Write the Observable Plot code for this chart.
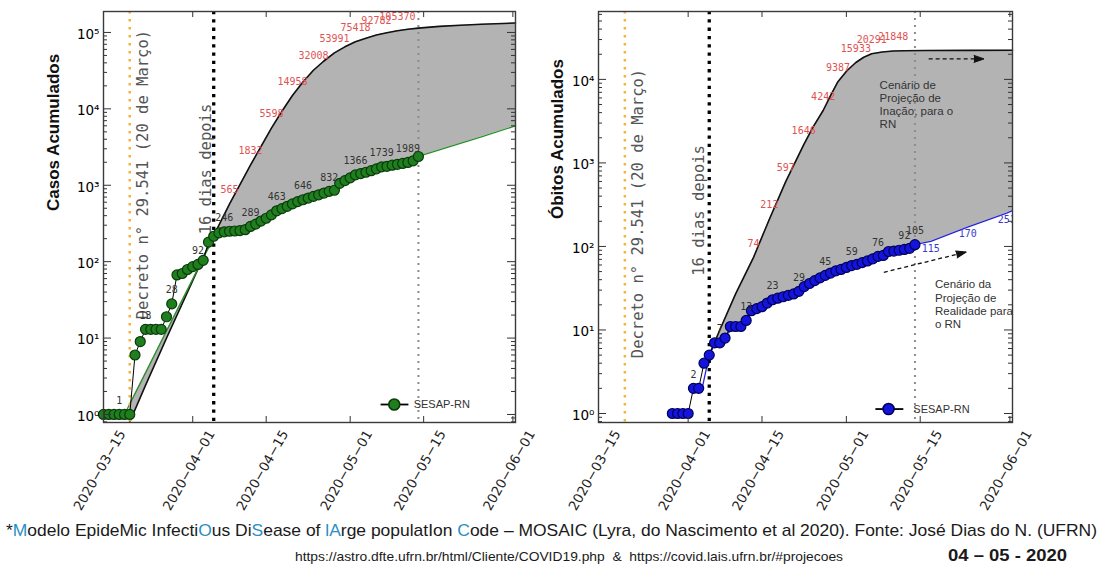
<!DOCTYPE html>
<html><head><meta charset="utf-8">
<script src="https://cdn.jsdelivr.net/npm/d3@7"></script>
<script src="https://cdn.jsdelivr.net/npm/@observablehq/plot@0.6"></script>
<style>
body{margin:0;background:#fff;width:1101px;height:568px;position:relative;overflow:hidden;font-family:"Liberation Sans",Arial,sans-serif;}
#left{position:absolute;left:0;top:0;width:540px;}
#right{position:absolute;left:540px;top:0;width:561px;}
.cap{position:absolute;white-space:nowrap;transform-origin:0 0;color:#1a1a1a;line-height:1;}
.c{color:#2a8fc4;}
</style></head><body>
<div id="left"></div><div id="right"></div>
<div class="cap" id="cap1" style="left:6px;top:522px;font-size:17px;">*<span class="c">M</span>odelo EpideMic Infecti<span class="c">O</span>us Di<span class="c">S</span>ease of <span class="c">lA</span>rge populatIon <span class="c">C</span>ode – MOSAIC (Lyra, do Nascimento et al 2020). Fonte: José Dias do N. (UFRN)</div>
<div class="cap" id="cap2" style="left:295px;top:550px;font-size:13px;">https://astro.dfte.ufrn.br/html/Cliente/COVID19.php &nbsp;&amp;&nbsp; https://covid.lais.ufrn.br/#projecoes</div>
<div class="cap" id="cap3" style="left:948px;top:548px;font-size:16px;font-weight:bold;">04 – 05 - 2020</div>
<script>
// ---------------- data (x = days counted from 2020-03-15) ----------------
const inicio = "2020-03-15";
const xTicks = ["2020-03-15", "2020-04-01", "2020-04-15", "2020-05-01", "2020-05-15", "2020-06-01"];
const xFim = 78.5;
const diaDecreto = "2020-03-20";
const diaDepois = "2020-04-05";
const diaHoje = "2020-05-14";

// SESAP-RN observed cumulative cases (daily, first day = 0)
const casosPrimeiroDia = 0;
const casosSESAP = [1,1,1,1,1,1,6,9,13,13,13,13,19,28,67,70,79,86,92,104,180,215,238,246,250,252,255,262,289,310,340,370,410,463,495,530,570,610,646,680,715,750,790,832,860,1060,1150,1250,1366,1420,1480,1550,1640,1739,1770,1830,1880,1930,1989,2090,2380];
const casosRotuloDias = [3,8,13,18,23,28,33,38,43,48,53,58];

// Cases: "inação" projection (upper, black)
const casosInacaoDia = [5,8,12,16,20,24,28,32,34,36,38,40,42,44,46,48,50,52,54,56,58,60,64,68,72,78.5];
const casosInacaoVal = [0.8,2.4,10,40,160,565,1832,5598,9300,14958,22500,32008,42300,53991,64800,75418,84200,92782,99300,105370,110000,114000,120000,124500,128000,133000];
const casosInacaoRotulos = [24,28,32,36,40,44,48,52,56];

// Cases: "realidade" projection (lower, green)
const casosRealDia = [4,8,12,16,19.5,21,22,24,26,28,30,33,38,43,44,45,48,53,58,59,60,66,72,78.5];
const casosRealVal = [1,3.5,12.4,43,130,200,235,248,255,285,340,455,640,825,855,1040,1350,1720,1980,2080,2380,3200,4300,6000];

// SESAP-RN observed cumulative deaths (daily, first day = 14)
const obitosPrimeiroDia = 14;
const obitosSESAP = [1,1,1,1,2,2,4,5,7,7,8,11,11,11,13,17,18,19,21,23,24,25,26,27,29,33,36,39,42,45,48,51,53,56,59,61,64,67,71,76,78,87,88,90,92,95,105];
const obitosRotuloDias = [18,23,28,33,38,43,48,53,58,60];

// Deaths: "inação" projection (upper, black)
const obitosInacaoDia = [21,23,26,29.4,32.4,35.5,38.9,40.7,42.6,44,45.4,47.1,48.8,50.3,51.8,53.8,55.9,58,62,70,78.5];
const obitosInacaoVal = [5,10,27,74,212,597,1646,2700,4242,6400,9387,12700,15933,18400,20291,21300,21848,22050,22150,22250,22300];
const obitosInacaoRotulos = [29.4,32.4,35.5,38.9,42.6,45.4,48.8,51.8,55.9];

// Deaths: "realidade" projection (lower, blue)
const obitosRealDia = [19.5,21,22,24,26,28,30,33,38,43,48,53,55,58,60,63,70,77.4,78.5];
const obitosRealVal = [1.8,5,6.8,8.5,11,13.5,18,22.5,29,44,58,75,86,92,105,115,170,251,268];
const obitosRealRotulos = [63,70,77.4];

// ---------------- helpers ----------------
const T0 = Date.parse(inicio), DAY = 864e5;
const dt = d => new Date(T0 + d * DAY);
const dayOf = s => (Date.parse(s) - T0) / DAY;
const sup = {"0":"⁰","1":"¹","2":"²","3":"³","4":"⁴","5":"⁵"};
const fmtPow = v => "10" + sup[String(Math.round(Math.log10(v)))];

function logAt(ds, vs, d) {
  for (let i = 0; i < ds.length - 1; i++) {
    if (d >= ds[i] && d <= ds[i + 1]) {
      const t = (d - ds[i]) / (ds[i + 1] - ds[i]);
      return 10 ** (Math.log10(vs[i]) + t * (Math.log10(vs[i + 1]) - Math.log10(vs[i])));
    }
  }
  return NaN;
}
function bandTable(uD, uV, lD, lV) {
  const lo = Math.max(uD[0], lD[0]), hi = Math.min(uD[uD.length - 1], lD[lD.length - 1]);
  const ds = Array.from(new Set([...uD, ...lD])).filter(d => d >= lo && d <= hi).sort((a, b) => a - b);
  return ds.map(d => ({x: dt(d), y1: logAt(lD, lV, d), y2: logAt(uD, uV, d)}));
}

function panel(c) {
  const H = 520, mt = 11, mb = 98;
  const fw = c.width - c.ml - c.mr, fh = H - mt - mb;
  const obs = c.obsVal.map((v, i) => ({x: dt(c.obsStart + i), v, d: c.obsStart + i}));
  const up = c.upDia.map((d, i) => ({x: dt(d), v: c.upVal[i], d}));
  const lo = c.loDia.map((d, i) => ({x: dt(d), v: c.loVal[i], d}));
  const major = c.exps.map(e => 10 ** e);
  const minor = [];
  for (let e = -1; e <= 5; e++) for (let m = 2; m <= 9; m++) {
    const v = m * 10 ** e;
    if (v >= c.yDomain[0] && v <= c.yDomain[1]) minor.push(v);
  }
  const xt = xTicks.map(s => ({x: dt(dayOf(s)), s}));
  const mono = "DejaVu Sans Mono";
  const marks = [
    Plot.areaY(bandTable(c.upDia, c.upVal, c.loDia, c.loVal), {x: "x", y1: "y1", y2: "y2", fill: "#b3b3b3"}),
    Plot.line(up, {x: "x", y: "v", stroke: "#111", strokeWidth: 1.6}),
    Plot.line(lo, {x: "x", y: "v", stroke: c.loColor, strokeWidth: 1.3}),
    Plot.ruleX([dt(dayOf(diaDecreto))], {stroke: "#f2b43c", strokeWidth: 2.5, strokeDasharray: "2.5,5.5"}),
    Plot.ruleX([dt(dayOf(diaDepois))], {stroke: "#000", strokeWidth: 3.3, strokeDasharray: "3.3,5"}),
    Plot.ruleX([dt(dayOf(diaHoje))], {stroke: "#8c8c8c", strokeWidth: 2, strokeDasharray: "2,5"}),
    Plot.text([c.decreto], {x: d => dt(dayOf(diaDecreto)), y: d => d.y, dx: c.decretoDx, text: d => d.t, rotate: -90,
      fontFamily: mono, fontSize: 15.5, fill: "#555"}),
    Plot.text([c.depois], {x: d => dt(dayOf(diaDepois)), y: d => d.y, dx: c.depoisDx, text: d => d.t, rotate: -90,
      fontFamily: mono, fontSize: 15.5, fill: "#555"}),
    Plot.line(obs, {x: "x", y: "v", stroke: "#000", strokeWidth: 1}),
    Plot.dot(obs, {x: "x", y: "v", r: 5, fill: c.dotFill, stroke: c.dotStroke, strokeWidth: 1.2}),
    Plot.text(obs.filter(o => c.obsRot.includes(o.d)), {x: "x", y: "v", text: o => String(o.v), dy: -14,
      fontFamily: mono, fontSize: 10, fill: "#333"}),
    Plot.text(up.filter(o => c.upRot.includes(o.d)), {x: "x", y: "v", text: o => String(o.v), dy: -14,
      fontFamily: mono, fontSize: 10, fill: "#e05252"}),
    Plot.text(lo.filter(o => c.loRot.includes(o.d)), {x: "x", y: "v", text: o => String(o.v), dy: 7,
      fontFamily: mono, fontSize: 10, fill: "#3a3ad0", clip: true}),
    // legend
    Plot.link([c.leg], {x1: d => dt(d.x1), x2: d => dt(d.x2), y1: d => d.y, y2: d => d.y, stroke: "#000", strokeWidth: 1.8}),
    Plot.dot([c.leg], {x: d => dt(d.xm), y: d => d.y, r: 5.5, fill: c.dotFill, stroke: c.dotStroke, strokeWidth: 1.6}),
    Plot.text([c.leg], {x: d => dt(d.xt), y: d => d.y, text: () => "SESAP-RN", textAnchor: "start",
      fontFamily: "Liberation Sans", fontSize: 11, fill: "#333"}),
    ...(c.extra || []),
    // ticks + frame
    Plot.tickY(major, {y: d => d, insetRight: fw - 8, stroke: "#333"}),
    Plot.tickY(major, {y: d => d, insetLeft: fw - 8, stroke: "#333"}),
    Plot.tickY(minor, {y: d => d, insetRight: fw - 4, stroke: "#333"}),
    Plot.tickY(minor, {y: d => d, insetLeft: fw - 4, stroke: "#333"}),
    Plot.tickX(xt, {x: "x", insetTop: fh - 6, stroke: "#333"}),
    Plot.tickX(xt, {x: "x", insetBottom: fh - 6, stroke: "#333"}),
    Plot.frame({stroke: "#3a3a3a", strokeWidth: 1.4}),
    Plot.axisY(major, {tickFormat: fmtPow, tickSize: 0, tickPadding: 4, fontSize: 13.5, dy: 2, label: null}),
    Plot.text(xt, {x: "x", frameAnchor: "bottom", dy: 50, rotate: -60, text: d => d.s.replaceAll("-", "−"),
      fontSize: 13.3, fill: "#222"}),
    Plot.text([c.ylabel], {frameAnchor: "left", dx: c.ylabelDx, dy: c.ylabelDy, rotate: -90, text: d => d,
      fontFamily: "Liberation Sans", fontWeight: "bold", fontSize: 17, fill: "#111"})
  ];
  return Plot.plot({
    width: c.width, height: H, marginTop: mt, marginBottom: mb, marginLeft: c.ml, marginRight: c.mr,
    style: {background: "transparent", overflow: "visible", fontFamily: "DejaVu Sans"},
    x: {type: "utc", domain: [dt(0), dt(xFim)], axis: null},
    y: {type: "log", domain: c.yDomain, label: null},
    marks
  });
}

const left = panel({
  width: 540, ml: 103, mr: 25, yDomain: [0.785, 1.88e5], exps: [0, 1, 2, 3, 4, 5],
  obsStart: casosPrimeiroDia, obsVal: casosSESAP, obsRot: casosRotuloDias,
  upDia: casosInacaoDia, upVal: casosInacaoVal, upRot: casosInacaoRotulos,
  loDia: casosRealDia, loVal: casosRealVal, loRot: [], loColor: "#2a8f2a",
  dotFill: "#1f7f1f", dotStroke: "#0a3a0a",
  decreto: {t: "Decreto n° 29.541 (20 de Março)", y: 1380}, decretoDx: 13,
  depois: {t: "16 dias depois", y: 1630}, depoisDx: -7.5,
  leg: {x1: 52.8, x2: 58.1, xm: 55.4, xt: 59.1, y: 1.35},
  ylabel: "Casos Acumulados", ylabelDx: -50, ylabelDy: -6
});

const arrows = [
  {x1: dt(62.6), y1: 17600, x2: dt(73.1), y2: 17600, rot: 90},
  {x1: dt(54.1), y1: 49, x2: dt(69.7), y2: 85.6, rot: 76}
];
const right = panel({
  width: 561, ml: 58, mr: 89, yDomain: [0.78, 6.5e4], exps: [0, 1, 2, 3, 4],
  obsStart: obitosPrimeiroDia, obsVal: obitosSESAP, obsRot: obitosRotuloDias,
  upDia: obitosInacaoDia, upVal: obitosInacaoVal, upRot: obitosInacaoRotulos,
  loDia: obitosRealDia, loVal: obitosRealVal, loRot: obitosRealRotulos, loColor: "#2424d6",
  dotFill: "#1414dc", dotStroke: "#00005a",
  decreto: {t: "Decreto n° 29.541 (20 de Março)", y: 248}, decretoDx: 13,
  depois: {t: "16 dias depois", y: 270}, depoisDx: -10,
  leg: {x1: 52.5, x2: 57.8, xm: 55, xt: 59.7, y: 1.13},
  ylabel: "Óbitos Acumulados", ylabelDx: -41, ylabelDy: 2,
  extra: [
    Plot.text([{x: dt(53.3), y: 1e4, t: "Cenário de\nProjeção de\nInação, para o\nRN"},
               {x: dt(63.8), y: 40.8, t: "Cenário da\nProjeção de\nRealidade para\no RN"}],
      {x: "x", y: "y", text: "t", textAnchor: "start", lineAnchor: "top", lineHeight: 1.15,
       fontFamily: "Liberation Sans", fontSize: 11.5, fill: "#333"}),
    Plot.link(arrows, {x1: "x1", y1: "y1", x2: "x2", y2: "y2", stroke: "#111", strokeWidth: 1.3, strokeDasharray: "4,3"}),
    Plot.vector(arrows, {x: "x2", y: "y2", rotate: "rot", length: 10, shape: "spike", r: 3.5, anchor: "end",
      fill: "#111", stroke: "#111", strokeWidth: 1})
  ]
});

document.getElementById("left").append(left);
document.getElementById("right").append(right);

function fit(id, w) {
  const el = document.getElementById(id);
  const r = el.getBoundingClientRect().width;
  el.style.transform = `scaleX(${w / r})`;
}
fit("cap1", 1091);
fit("cap2", 548);
fit("cap3", 119);
</script>
</body></html>
